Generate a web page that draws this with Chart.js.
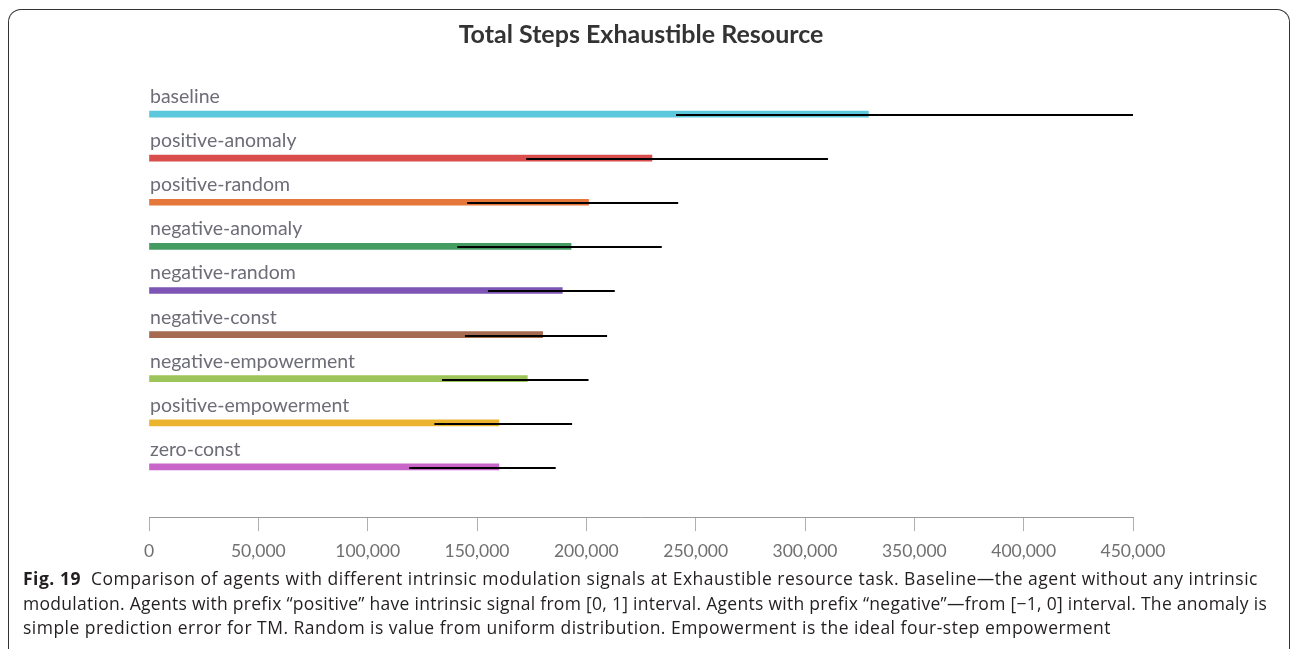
<!DOCTYPE html>
<html lang="en">
<head>
<meta charset="UTF-8">
<title>Total Steps Exhaustible Resource</title>
<script src="https://cdn.jsdelivr.net/npm/chart.js"></script>
<style>
  body { margin: 0; background: #fff; }
  /* figure frame, open at the bottom */
  .frame {
    position: absolute; left: 8px; top: 9px; width: 1280px; height: 700px;
    border: 1px solid #333; border-bottom: none; border-radius: 13px 13px 0 0;
  }
  .chart-box { position: absolute; left: 0; top: 0; width: 1291px; height: 575px; }
  .caption {
    position: absolute; left: 23px; top: 566px;
    font-family: "Open Sans", sans-serif; font-size: 17.5px; line-height: 24.5px;
    color: #231f20; white-space: nowrap;
  }
  .caption span { display: inline-block; }
</style>
</head>
<body>
<div class="frame"></div>
<div class="chart-box"><canvas id="stepsChart"></canvas></div>
<div class="caption">
  <span data-w="1235"><b>Fig. 19</b>&nbsp; Comparison of agents with different intrinsic modulation signals at Exhaustible resource task. Baseline—the agent without any intrinsic</span><br>
  <span data-w="1244">modulation. Agents with prefix “positive” have intrinsic signal from [0, 1] interval. Agents with prefix “negative”—from [−1, 0] interval. The anomaly is</span><br>
  <span data-w="1088">simple prediction error for TM. Random is value from uniform distribution. Empowerment is the ideal four-step empowerment</span>
</div>
<script>
const categories = ['baseline', 'positive-anomaly', 'positive-random', 'negative-anomaly', 'negative-random',
                    'negative-const', 'negative-empowerment', 'positive-empowerment', 'zero-const'];
const means = [329000, 230000, 201000, 193000, 189000, 180000, 173000, 160000, 160000];
const lows  = [241000, 172500, 145500, 141000, 155000, 144500, 134000, 130500, 119000];
const highs = [450000, 310500, 242000, 234500, 213000, 209500, 201000, 193500, 186000];
const colors = ['#5cc8dc', '#d94d4d', '#e5773a', '#459c62', '#7d55b5',
                '#a66a50', '#9dc45a', '#ecb32f', '#c765c9'];
const xMax = 450000;
const xStep = 50000;

// stretch each caption line to the width it has in the printed figure
document.querySelectorAll('.caption span').forEach(s => {
  const want = +s.dataset.w;
  const have = s.getBoundingClientRect().width;
  const n = s.textContent.length;
  s.style.letterSpacing = ((want - have) / n) + 'px';
});

// error bars + row names above each bar
const rowDecor = {
  id: 'rowDecor',
  afterDatasetsDraw(chart) {
    const { ctx, scales: { x, y } } = chart;
    ctx.save();
    ctx.strokeStyle = '#000';
    ctx.lineWidth = 2;
    lows.forEach((lo, i) => {
      const py = Math.round(y.getPixelForValue(i)) + 1;
      ctx.beginPath();
      ctx.moveTo(x.getPixelForValue(lo), py);
      ctx.lineTo(x.getPixelForValue(highs[i]), py);
      ctx.stroke();
    });
    ctx.font = '19.5px Lato';
    ctx.fillStyle = '#6d6d78';
    ctx.textBaseline = 'alphabetic';
    categories.forEach((name, i) => {
      ctx.fillText(name, x.left + 1, y.getPixelForValue(i) - 11);
    });
    ctx.restore();
  }
};

new Chart(document.getElementById('stepsChart'), {
  type: 'bar',
  data: {
    datasets: [{
      data: means.map((v, i) => ({ x: v, y: i })),
      backgroundColor: colors,
      barThickness: 6,
      borderWidth: 0
    }]
  },
  options: {
    indexAxis: 'y',
    responsive: true,
    maintainAspectRatio: false,
    animation: false,
    layout: { padding: { left: 149, right: 158, top: 0, bottom: 2.8 } },
    scales: {
      x: {
        min: 0, max: xMax,
        border: { display: true, color: '#9a9a9a', width: 1 },
        grid: { drawOnChartArea: false, drawTicks: true, tickLength: 14, color: '#b0b0b0' },
        ticks: { stepSize: xStep, color: '#707070', padding: 10, font: { family: 'Lato', size: 17.5 } }
      },
      y: {
        type: 'linear', reverse: true, min: -0.5, max: 9.14, bounds: 'data', offset: false,
        display: false
      }
    },
    plugins: {
      legend: { display: false },
      tooltip: { enabled: false },
      title: {
        display: true,
        text: 'Total Steps Exhaustible Resource',
        color: '#333',
        font: { family: 'Lato', size: 25, weight: 'bold' },
        padding: { top: 20, bottom: 42 }
      }
    }
  },
  plugins: [rowDecor]
});
</script>
</body>
</html>
